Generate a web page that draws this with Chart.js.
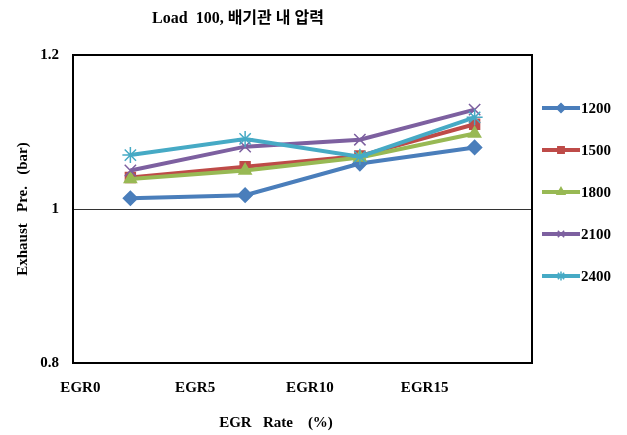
<!DOCTYPE html>
<html>
<head>
<meta charset="utf-8">
<script src="https://cdn.jsdelivr.net/npm/chart.js@4/dist/chart.umd.min.js"></script>
<style>
  html, body { margin: 0; padding: 0; background: #fff; }
  #wrap { width: 627px; height: 435px; }
</style>
</head>
<body>
<div id="wrap"><canvas id="pressureChart" width="627" height="435"></canvas></div>
<script>
// Data
const categories = ['EGR0', 'EGR5', 'EGR10', 'EGR15'];
const seriesNames = ['1200', '1500', '1800', '2100', '2400'];
const rpm1200 = [1.014, 1.018, 1.059, 1.080];
const rpm1500 = [1.041, 1.055, 1.069, 1.110];
const rpm1800 = [1.039, 1.050, 1.067, 1.098];
const rpm2100 = [1.050, 1.081, 1.090, 1.129];
const rpm2400 = [1.070, 1.091, 1.068, 1.119];
const yTicks = [0.8, 1.0, 1.2];

const seriesValues = [rpm1200, rpm1500, rpm1800, rpm2100, rpm2400];
const colors = ['#4A7EBB', '#BE4B48', '#98B954', '#7D60A0', '#46AAC5'];
const markers = ['rectRot', 'rect', 'triangle', 'crossRot', 'star'];
const markerSize = [7, 7, 7, 8, 8];

const serif = "'Liberation Serif', 'Noto Sans CJK KR', serif";

// Title, x-axis title, frame and legend drawn on top of the chart
const extrasPlugin = {
    id: 'extras',
    afterDraw(chart) {
        const ctx = chart.ctx;
        const area = chart.chartArea;
        ctx.save();

        // frame round the plot area
        ctx.strokeStyle = '#000';
        ctx.lineWidth = 2;
        ctx.strokeRect(area.left, area.top, area.right - area.left, area.bottom - area.top);

        ctx.fillStyle = '#000';
        ctx.textAlign = 'center';
        ctx.textBaseline = 'middle';
        ctx.font = 'bold 16px ' + serif;
        ctx.fillText('Load  100, 배기관 내 압력', 238, 19);
        ctx.font = 'bold 15px ' + serif;
        ctx.fillText('EGR   Rate    (%)', 276, 423);

        // legend
        chart.data.datasets.forEach((ds, i) => {
            const y = 108 + 42 * i;
            ctx.strokeStyle = ds.borderColor;
            ctx.lineWidth = 4;
            ctx.beginPath();
            ctx.moveTo(542, y);
            ctx.lineTo(580, y);
            ctx.stroke();
            ctx.fillStyle = ds.borderColor;
            ctx.lineWidth = 1.5;
            if (Chart.helpers && Chart.helpers.drawPoint) {
                Chart.helpers.drawPoint(ctx, {
                    pointStyle: ds.pointStyle,
                    radius: 4.5,
                    rotation: 0,
                    borderWidth: 1.5
                }, 561, y);
            }
            ctx.fillStyle = '#000';
            ctx.textAlign = 'left';
            ctx.font = 'bold 15px ' + serif;
            ctx.fillText(ds.label, 581, y + 1);
        });
        ctx.restore();
    }
};

const ctx = document.getElementById('pressureChart').getContext('2d');

window.pressureChart = new Chart(ctx, {
    type: 'line',
    data: {
        labels: categories,
        datasets: seriesNames.map((name, i) => ({
            label: name,
            data: seriesValues[i],
            borderColor: colors[i],
            backgroundColor: colors[i],
            pointBackgroundColor: colors[i],
            pointBorderColor: colors[i],
            borderWidth: 4,
            pointStyle: markers[i],
            pointRadius: markerSize[i],
            pointBorderWidth: 1.5,
            tension: 0,
            fill: false,
            order: seriesNames.length - i
        }))
    },
    options: {
        responsive: false,
        animation: false,
        layout: {
            padding: { top: 55, right: 95, left: 0, bottom: 0 }
        },
        plugins: {
            legend: { display: false },
            title: { display: false },
            tooltip: { enabled: false }
        },
        scales: {
            x: {
                offset: true,
                grid: { display: false },
                border: { display: true, color: '#333', width: 2 },
                ticks: {
                    color: '#000',
                    font: { family: serif, size: 15, weight: 'bold' },
                    padding: 8,
                    labelOffset: -50,
                    maxRotation: 0
                },
                afterFit(scale) { scale.height = 72; }
            },
            y: {
                min: 0.8,
                max: 1.2,
                afterBuildTicks(scale) {
                    scale.ticks = yTicks.map(v => ({ value: v }));
                },
                grid: { color: '#333', lineWidth: 1, drawTicks: false },
                border: { display: true, color: '#000', width: 2 },
                ticks: {
                    color: '#000',
                    font: { family: serif, size: 15, weight: 'bold' },
                    padding: 14,
                    callback: v => String(Math.round(v * 10) / 10)
                },
                title: {
                    display: true,
                    text: 'Exhaust   Pre.   (bar)',
                    color: '#000',
                    font: { family: serif, size: 15, weight: 'bold' },
                    padding: 14
                },
                afterFit(scale) { scale.width = 73; }
            }
        }
    },
    plugins: [extrasPlugin]
});
</script>
</body>
</html>
